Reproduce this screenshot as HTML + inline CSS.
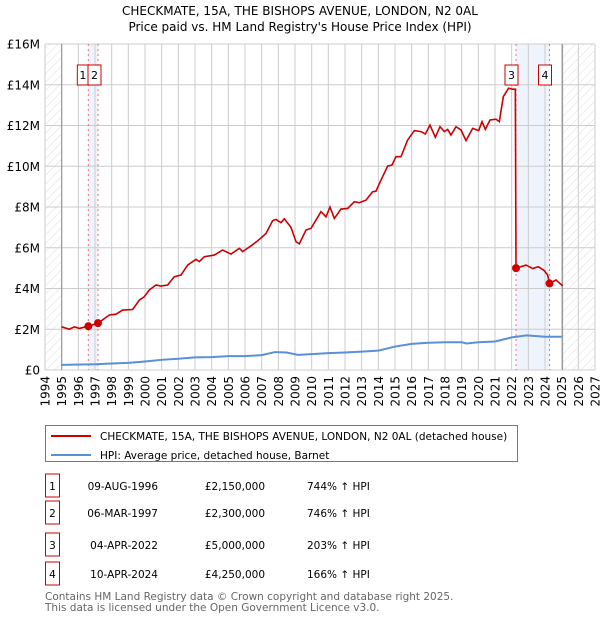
<!DOCTYPE html>
<html><head><meta charset="utf-8"><style>
body{margin:0;background:#fff;font-family:"DejaVu Sans","Liberation Sans",sans-serif;}
svg text{font-family:"DejaVu Sans","Liberation Sans",sans-serif;}
</style></head><body>
<svg id="chart" width="600" height="620" viewBox="0 0 600 620">
<defs><pattern id="hatch" width="6" height="6" patternUnits="userSpaceOnUse" patternTransform="rotate(45)"><line x1="0" y1="0" x2="0" y2="6" stroke="#d4d4d4" stroke-width="0.8"/></pattern></defs>
<text x="300" y="15" text-anchor="middle" font-size="12">CHECKMATE, 15A, THE BISHOPS AVENUE, LONDON, N2 0AL</text>
<text x="300" y="31" text-anchor="middle" font-size="12">Price paid vs. HM Land Registry's House Price Index (HPI)</text>
<g id="grid"></g><g id="marks"></g>
<g>
<rect x="45.5" y="425.5" width="472" height="36" fill="#fff" stroke="#777"/>
<line x1="51" y1="436" x2="91" y2="436" stroke="#cc0000" stroke-width="2"/>
<text x="100" y="440" font-size="10.5">CHECKMATE, 15A, THE BISHOPS AVENUE, LONDON, N2 0AL (detached house)</text>
<line x1="51" y1="455" x2="91" y2="455" stroke="#5b8fd6" stroke-width="2"/>
<text x="100" y="459" font-size="10.5">HPI: Average price, detached house, Barnet</text>
</g>
<g id="table" font-size="10.5"></g>
<text x="45" y="600" font-size="10.5" fill="#666">Contains HM Land Registry data © Crown copyright and database right 2025.</text>
<text x="45" y="611" font-size="10.5" fill="#666">This data is licensed under the Open Government Licence v3.0.</text>
</svg>
<script>
const yTicks=[0,2,4,6,8,10,12,14,16];
const yTickLabels=["£0","£2M","£4M","£6M","£8M","£10M","£12M","£14M","£16M"];
const xYears=[1994,1995,1996,1997,1998,1999,2000,2001,2002,2003,2004,2005,2006,2007,2008,2009,2010,2011,2012,2013,2014,2015,2016,2017,2018,2019,2020,2021,2022,2023,2024,2025,2026,2027];
const redYears=[1995,1995.46,1995.76,1996.06,1996.6,1997.18,1997.86,1998.26,1998.66,1999.26,1999.66,1999.96,2000.26,2000.66,2000.96,2001.36,2001.76,2002.16,2002.56,2003.06,2003.26,2003.56,2004.16,2004.66,2005.16,2005.66,2005.86,2006.46,2006.76,2007.26,2007.66,2007.86,2008.16,2008.36,2008.76,2009.06,2009.26,2009.66,2009.96,2010.26,2010.56,2010.86,2011.1,2011.36,2011.76,2012.16,2012.56,2012.86,2013.26,2013.66,2013.86,2014.16,2014.56,2014.82,2015.06,2015.36,2015.76,2016.16,2016.56,2016.82,2017.1,2017.42,2017.7,2017.96,2018.16,2018.36,2018.66,2018.96,2019.26,2019.66,2020.02,2020.22,2020.42,2020.7,2021.06,2021.26,2021.5,2021.82,2022.06,2022.22,2022.26,2022.86,2023.26,2023.6,2023.96,2024.16,2024.27,2024.66,2025.06];
const redValues=[2.12,2.0,2.12,2.04,2.15,2.3,2.7,2.74,2.94,2.97,3.43,3.6,3.93,4.17,4.12,4.17,4.58,4.66,5.15,5.43,5.32,5.56,5.64,5.89,5.69,5.97,5.81,6.15,6.34,6.7,7.33,7.39,7.23,7.42,7.0,6.3,6.19,6.87,6.95,7.36,7.77,7.52,8.0,7.44,7.9,7.93,8.26,8.21,8.34,8.75,8.78,9.32,10.01,10.06,10.47,10.47,11.29,11.75,11.7,11.58,12.02,11.42,11.94,11.7,11.81,11.53,11.94,11.78,11.26,11.86,11.75,12.19,11.81,12.27,12.31,12.19,13.42,13.83,13.78,13.78,5.0,5.15,4.98,5.07,4.87,4.66,4.25,4.42,4.13];
const hpiYears=[1995,1997,1998,1999,2000,2001,2002,2003,2004,2005,2006,2007,2007.8,2008.5,2009.2,2010,2011,2012,2013,2014,2015,2016,2017,2018,2019,2019.3,2020,2021,2022,2022.9,2024,2025];
const hpiValues=[0.25,0.28,0.32,0.35,0.42,0.5,0.55,0.62,0.63,0.68,0.68,0.73,0.88,0.86,0.74,0.78,0.83,0.86,0.9,0.95,1.15,1.28,1.34,1.36,1.36,1.3,1.36,1.4,1.6,1.7,1.63,1.63];
const saleYears=[1996.6,1997.18,2022.26,2024.27];
const saleValues=[2.15,2.3,5.0,4.25];
const saleLabels=["1","2","3","4"];
const saleDates=["09-AUG-1996","06-MAR-1997","04-APR-2022","10-APR-2024"];
const salePrices=["£2,150,000","£2,300,000","£5,000,000","£4,250,000"];
const saleHpi=["744% ↑ HPI","746% ↑ HPI","203% ↑ HPI","166% ↑ HPI"];

const NS="http://www.w3.org/2000/svg";
const X0=45,X1=595,Y0=370,Y1=44;
const xs=y=>X0+(y-1994)/(2027-1994)*(X1-X0);
const ys=v=>Y0-v/16*(Y0-Y1);
function mk(p,t,a){const e=document.createElementNS(NS,t);for(const k in a)e.setAttribute(k,a[k]);p.appendChild(e);return e;}
const g=document.getElementById('grid'),m=document.getElementById('marks'),tb=document.getElementById('table');
let h1=mk(g,'rect',{x:X0,y:Y1,width:xs(1995)-X0,height:Y0-Y1,fill:'url(#hatch)'});


let h2=mk(g,'rect',{x:xs(2025.05),y:Y1,width:X1-xs(2025.05),height:Y0-Y1,fill:'url(#hatch)'});


[[0,1],[2,3]].forEach(([a,b])=>{let r=mk(g,'rect',{x:xs(saleYears[a]),y:Y1,width:xs(saleYears[b])-xs(saleYears[a]),height:Y0-Y1,fill:'#eef3fc'});

});
yTicks.forEach((v,i)=>{let l=mk(g,'line',{x1:X0,x2:X1,y1:ys(v),y2:ys(v),stroke:'#ccc'});


let t=mk(g,'text',{x:40,y:ys(v)+4.5,'text-anchor':'end','font-size':12});t.textContent=yTickLabels[i];

});
xYears.forEach(yr=>{let l=mk(g,'line',{x1:xs(yr),x2:xs(yr),y1:Y1,y2:Y0,stroke:'#ccc'});


let t=mk(g,'text',{x:0,y:0,'text-anchor':'end','font-size':12,transform:`translate(${xs(yr)+4.5},${Y0+6}) rotate(-90)`});t.textContent=yr;

});
[1995,2025.05].forEach(yr=>{let l=mk(g,'line',{x1:xs(yr),x2:xs(yr),y1:Y1,y2:Y0,stroke:'#999','stroke-width':1.2});

});
saleYears.forEach(yr=>{let l=mk(g,'line',{x1:xs(yr),x2:xs(yr),y1:Y1,y2:Y0,stroke:'#f07070','stroke-dasharray':'2,3'});

});
let hp=mk(m,'polyline',{points:hpiYears.map((y,i)=>xs(y)+','+ys(hpiValues[i])).join(' '),fill:'none',stroke:'#5b8fd6','stroke-width':2});


let rp=mk(m,'polyline',{points:redYears.map((y,i)=>xs(y)+','+ys(redValues[i])).join(' '),fill:'none',stroke:'#cc0000','stroke-width':1.6});


saleYears.forEach((yr,i)=>{let c=mk(m,'circle',{cx:xs(yr),cy:ys(saleValues[i]),r:4,fill:'#cc0000'});


let r=mk(m,'rect',{x:i==0?xs(yr)-11:i==1?xs(yr)-10:xs(yr)-11,y:65,width:i==0?11:13,height:20,fill:'#fff',stroke:'#cc0000'});


let t=mk(m,'text',{x:(i==0?xs(yr)-5.5:i==1?xs(yr)-3.5:xs(yr)-4.5),y:79,'text-anchor':'middle','font-size':11});t.textContent=saleLabels[i];

});
const rowY=[486,513,545,574];
saleLabels.forEach((s,i)=>{const y=rowY[i];
let r=mk(tb,'rect',{x:45.5,y:y-12,width:14,height:23,fill:'none',stroke:'#cc0000'});


let t=mk(tb,'text',{x:52.5,y:y+4,'text-anchor':'middle'});t.textContent=s;


let d=mk(tb,'text',{x:158,y:y+4,'text-anchor':'end'});d.textContent=saleDates[i];


let p=mk(tb,'text',{x:265,y:y+4,'text-anchor':'end'});p.textContent=salePrices[i];


let h=mk(tb,'text',{x:307,y:y+4});h.textContent=saleHpi[i];

});
</script>
</body></html>
